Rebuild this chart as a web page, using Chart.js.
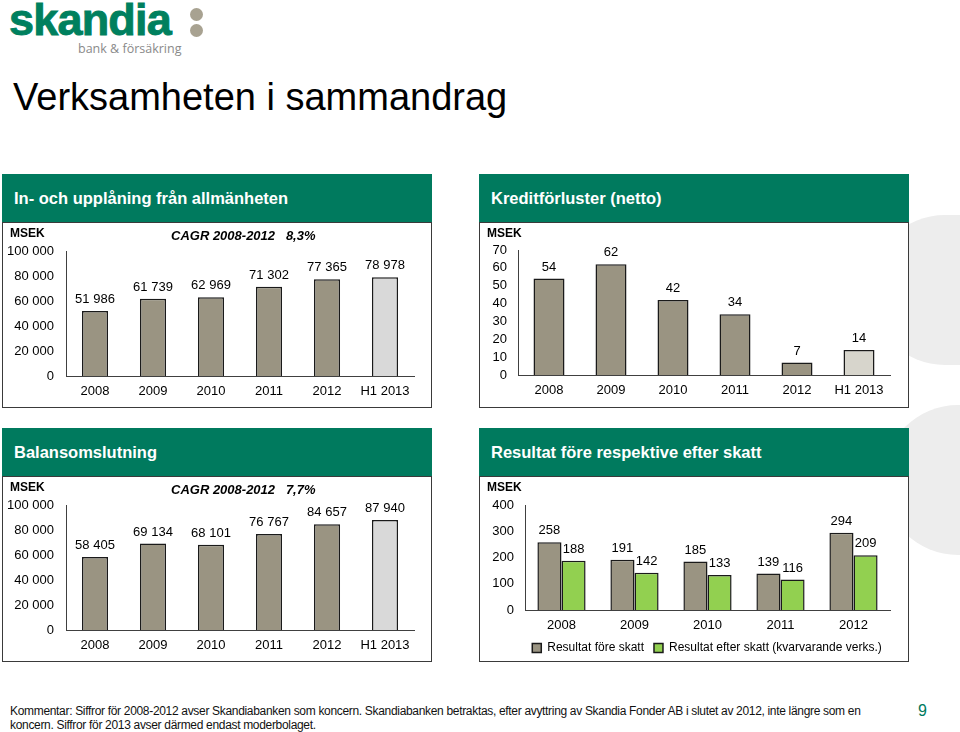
<!DOCTYPE html>
<html>
<head>
<meta charset="utf-8">
<script src="https://cdn.jsdelivr.net/npm/chart.js@4.4.0/dist/chart.umd.min.js"></script>
<style>
  body { margin: 0; width: 960px; height: 732px; position: relative; overflow: hidden; background: #fff;
         font-family: "Liberation Sans", Arial, sans-serif; }
  .blob { position: absolute; background: #ededed; border-radius: 75px; }
  .logo { position: absolute; left: 9px; top: -6px; font-size: 45px; font-weight: bold; color: #00805e;
          letter-spacing: -0.8px; -webkit-text-stroke: 0.9px #00805e; }
  .dot { position: absolute; width: 13px; height: 13px; border-radius: 50%; background: #a8a291; }
  .tag { position: absolute; left: 78px; top: 40px; font-family: "Open Sans", sans-serif; font-size: 12.5px; color: #8a8a8a; }
  h1 { position: absolute; left: 13px; top: 76px; margin: 0; font-weight: normal; font-size: 38px; color: #000; }
  .panel { position: absolute; width: 430px; height: 234px; }
  .hd { height: 48px; background: #007a5e; color: #fff; font-weight: bold; font-size: 16.5px; line-height: 48px; padding-left: 12px; }
  .bd { position: relative; height: 184px; border: 1px solid #3a3a3a; background: #fff; }
  .bd canvas { position: absolute; left: 0; top: 0; }
  .msek { position: absolute; left: 7px; top: 3px; font-size: 12px; font-weight: bold; }
  .cagr { position: absolute; left: 168px; top: 5px; font-size: 13px; font-weight: bold; font-style: italic; white-space: pre; }
  .foot { position: absolute; left: 10px; top: 704px; font-size: 12px; line-height: 14px; letter-spacing: -0.32px; color: #111; }
  .page { position: absolute; left: 918px; top: 702px; font-size: 16px; color: #007a5e; }
</style>
</head>
<body>
<div class="blob" style="left:870px; top:215px; width:200px; height:150px;"></div>
<div class="blob" style="left:883px; top:405px; width:200px; height:150px;"></div>

<div class="logo">skandia</div>
<div class="dot" style="left:190px; top:8px;"></div>
<div class="dot" style="left:190px; top:24px;"></div>
<div class="tag">bank &amp; försäkring</div>
<h1>Verksamheten i sammandrag</h1>

<div class="panel" style="left:2px; top:174px;">
  <div class="hd">In- och upplåning från allmänheten</div>
  <div class="bd"><canvas id="c1" width="428" height="184"></canvas>
    <div class="msek">MSEK</div><div class="cagr">CAGR 2008-2012   8,3%</div></div>
</div>
<div class="panel" style="left:479px; top:174px;">
  <div class="hd">Kreditförluster (netto)</div>
  <div class="bd"><canvas id="c2" width="428" height="184"></canvas>
    <div class="msek">MSEK</div></div>
</div>
<div class="panel" style="left:2px; top:428px;">
  <div class="hd">Balansomslutning</div>
  <div class="bd"><canvas id="c3" width="428" height="184"></canvas>
    <div class="msek">MSEK</div><div class="cagr">CAGR 2008-2012   7,7%</div></div>
</div>
<div class="panel" style="left:479px; top:428px;">
  <div class="hd">Resultat före respektive efter skatt</div>
  <div class="bd"><canvas id="c4" width="428" height="187"></canvas>
    <div class="msek">MSEK</div></div>
</div>

<div class="foot">Kommentar: Siffror för 2008-2012 avser Skandiabanken som koncern. Skandiabanken betraktas, efter avyttring av Skandia Fonder AB i slutet av 2012, inte längre som en<br>koncern. Siffror för 2013 avser därmed endast moderbolaget.</div>
<div class="page">9</div>

<script>
const years = ['2008', '2009', '2010', '2011', '2012', 'H1 2013'];
const upplaning = [51986, 61739, 62969, 71302, 77365, 78978];
const kreditforluster = [54, 62, 42, 34, 7, 14];
const balansomslutning = [58405, 69134, 68101, 76767, 84657, 87940];

const resultatYears = ['2008', '2009', '2010', '2011', '2012'];
const resultatFore = [258, 191, 185, 139, 294];
const resultatEfter = [188, 142, 133, 116, 209];

const brown = '#9a9482';
const green = '#92d050';

Chart.defaults.font.family = '"Liberation Sans", Arial, sans-serif';
Chart.defaults.color = '#000';

function fmt(v) {
    return String(v).replace(/\B(?=(\d{3})+(?!\d))/g, ' ');
}

// values written above each bar
const valueLabels = {
    id: 'valueLabels',
    afterDatasetsDraw(chart) {
        const ctx = chart.ctx;
        ctx.save();
        ctx.font = '13px "Liberation Sans", Arial, sans-serif';
        ctx.fillStyle = '#000';
        ctx.textAlign = 'center';
        ctx.textBaseline = 'bottom';
        chart.data.datasets.forEach((ds, i) => {
            chart.getDatasetMeta(i).data.forEach((bar, j) => {
                ctx.fillText(fmt(ds.data[j]), bar.x, bar.y - 5);
            });
        });
        ctx.restore();
    }
};

function makeBar(id, cfg) {
    const scales = {
        x: {
            grid: { display: false, drawTicks: false },
            border: { color: '#404040' },
            ticks: { font: { size: 13 }, padding: 8, maxRotation: 0, autoSkip: false },
            afterFit: s => { s.height = cfg.xh; }
        },
        y: {
            min: 0,
            max: cfg.max,
            grid: { display: false, drawTicks: false },
            border: { color: '#404040' },
            ticks: { stepSize: cfg.step, font: { size: 13 }, padding: cfg.ypad, autoSkip: false,
                     callback: v => fmt(v) },
            afterFit: s => { s.width = cfg.yw; }
        }
    };
    if (cfg.gapRight) {
        // empty right-hand axis, keeps the plot off the right edge without narrowing the legend
        scales.yGap = {
            position: 'right',
            grid: { display: false, drawTicks: false },
            border: { display: false },
            ticks: { display: false },
            afterFit: s => { s.width = cfg.gapRight; }
        };
    }
    return new Chart(document.getElementById(id), {
        type: 'bar',
        data: { labels: cfg.labels, datasets: cfg.datasets },
        options: {
            responsive: false,
            animation: false,
            devicePixelRatio: 1,
            layout: { padding: { top: cfg.top, right: cfg.right, left: cfg.left || 0, bottom: 0 } },
            plugins: {
                legend: cfg.legend || { display: false },
                tooltip: { enabled: false }
            },
            scales: scales
        },
        plugins: [valueLabels]
    });
}

function yearColors(last) {
    return years.map((y, i) => i === years.length - 1 ? last : brown);
}

makeBar('c1', {
    labels: years,
    datasets: [{ data: upplaning, backgroundColor: yearColors('#d9d9d9'), borderColor: '#1a1a1a', borderWidth: 1.5,
                 categoryPercentage: 1, barPercentage: 0.45 }],
    max: 100000, step: 20000, top: 28, right: 17, yw: 63, ypad: 12, xh: 31
});

makeBar('c2', {
    labels: years,
    datasets: [{ data: kreditforluster, backgroundColor: yearColors('#d7d5cc'), borderColor: '#1a1a1a', borderWidth: 1.5,
                 categoryPercentage: 1, barPercentage: 0.5 }],
    max: 70, step: 10, top: 27, right: 18, yw: 38, ypad: 11, xh: 32
});

makeBar('c3', {
    labels: years,
    datasets: [{ data: balansomslutning, backgroundColor: yearColors('#d9d9d9'), borderColor: '#1a1a1a', borderWidth: 1.5,
                 categoryPercentage: 1, barPercentage: 0.45 }],
    max: 100000, step: 20000, top: 28, right: 17, yw: 63, ypad: 12, xh: 31
});

// negative right padding lets the legend sit centred under the plot, as in the slide
makeBar('c4', {
    labels: resultatYears,
    datasets: [
        { label: 'Resultat före skatt', data: resultatFore, backgroundColor: brown, borderColor: '#1a1a1a', borderWidth: 1.5,
          categoryPercentage: 0.66, barPercentage: 1 },
        { label: 'Resultat efter skatt (kvarvarande verks.)', data: resultatEfter, backgroundColor: green, borderColor: '#1a1a1a', borderWidth: 1.5,
          categoryPercentage: 0.66, barPercentage: 1 }
    ],
    legend: { display: true, position: 'bottom',
              labels: { boxWidth: 9, boxHeight: 9, padding: 10, font: { size: 12 } } },
    max: 400, step: 100, top: 28, right: -14, left: 12, yw: 33, gapRight: 32, ypad: 11, xh: 22
});
</script>
</body>
</html>
